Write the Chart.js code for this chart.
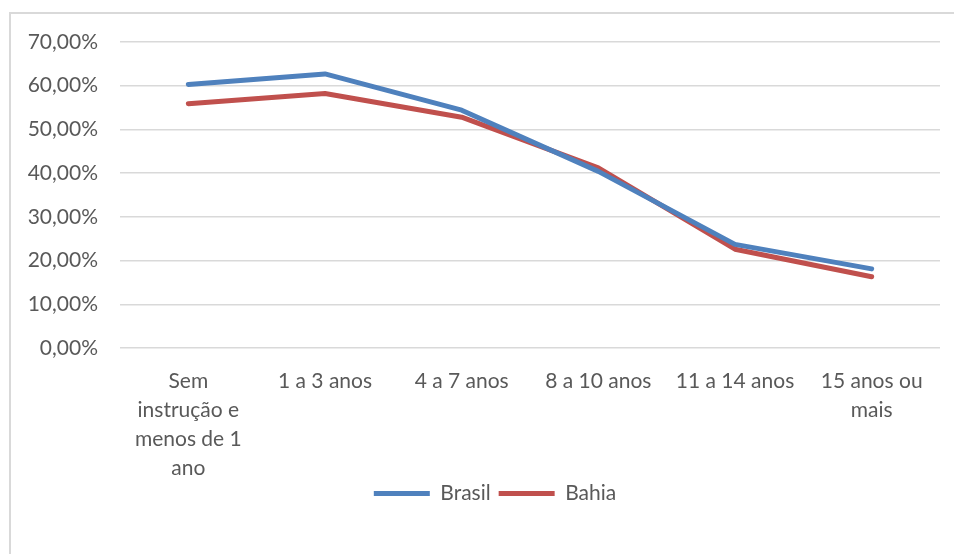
<!DOCTYPE html>
<html>
<head>
<meta charset="utf-8">
<script src="https://cdn.jsdelivr.net/npm/chart.js@4"></script>
<style>
  html, body { margin: 0; padding: 0; background: #fff; }
  #wrap { position: relative; width: 954px; height: 554px; overflow: hidden; }
  #frame { position: absolute; left: 9px; top: 12px; width: 960px; height: 560px; border: 2px solid #d9d9d9; box-sizing: border-box; }
  canvas { position: absolute; left: 0; top: 0; }
</style>
</head>
<body>
<div id="wrap">
  <div id="frame"></div>
  <canvas id="c" width="954" height="554"></canvas>
</div>
<script>
const categories = [
  ["Sem", "instrução e", "menos de 1", "ano"],
  "1 a 3 anos",
  "4 a 7 anos",
  "8 a 10 anos",
  "11 a 14 anos",
  ["15 anos ou", "mais"]
];
const brasil = [60.3, 62.7, 54.4, 40.4, 23.7, 18.1];
const bahia  = [55.9, 58.2, 52.8, 41.2, 22.6, 16.3];
const yTicks = [0, 10, 20, 30, 40, 50, 60, 70];

const textColor = '#595959';
const fontFamily = 'Lato, "Open Sans", sans-serif';

const shiftLegend = {
  id: 'shiftLegend',
  afterLayout(chart) {
    const l = chart.legend;
    if (l) { l.left += 25; l.right += 25; }
  }
};

new Chart(document.getElementById('c'), {
  type: 'line',
  data: {
    labels: categories,
    datasets: [
      { label: 'Brasil', data: brasil, borderColor: '#4F81BD', backgroundColor: '#4F81BD',
        borderWidth: 5, pointRadius: 0, tension: 0, borderCapStyle: 'round', borderJoinStyle: 'round', pointStyle: 'line' },
      { label: 'Bahia', data: bahia, borderColor: '#C0504D', backgroundColor: '#C0504D',
        borderWidth: 5, pointRadius: 0, tension: 0, borderCapStyle: 'round', borderJoinStyle: 'round', pointStyle: 'line' }
    ]
  },
  plugins: [shiftLegend],
  options: {
    responsive: false,
    animation: false,
    layout: { padding: { left: 0, right: 14, top: 42, bottom: 40 } },
    plugins: {
      tooltip: { enabled: false },
      legend: {
        position: 'bottom',
        labels: {
          usePointStyle: true,
          pointStyle: 'line',
          pointStyleWidth: 56,
          padding: 8,
          color: textColor,
          font: { family: fontFamily, size: 21 }
        }
      }
    },
    scales: {
      x: {
        offset: true,
        grid: { display: false, drawTicks: false, offset: true },
        border: { display: false },
        ticks: {
          color: textColor, padding: 19, maxRotation: 0, autoSkip: false,
          font: { family: fontFamily, size: 21, lineHeight: 1.38 }
        },
        afterFit: s => { s.height = 127; }
      },
      y: {
        min: 0, max: 70,
        afterBuildTicks: s => { s.ticks = yTicks.map(v => ({ value: v })); },
        grid: { color: '#d9d9d9', lineWidth: 1.5, drawTicks: false },
        border: { display: false },
        ticks: {
          color: textColor, padding: 22,
          font: { family: fontFamily, size: 21 },
          callback: v => v.toFixed(2).replace('.', ',') + '%'
        },
        afterFit: s => { s.width = 120; }
      }
    }
  }
});
</script>
</body>
</html>
